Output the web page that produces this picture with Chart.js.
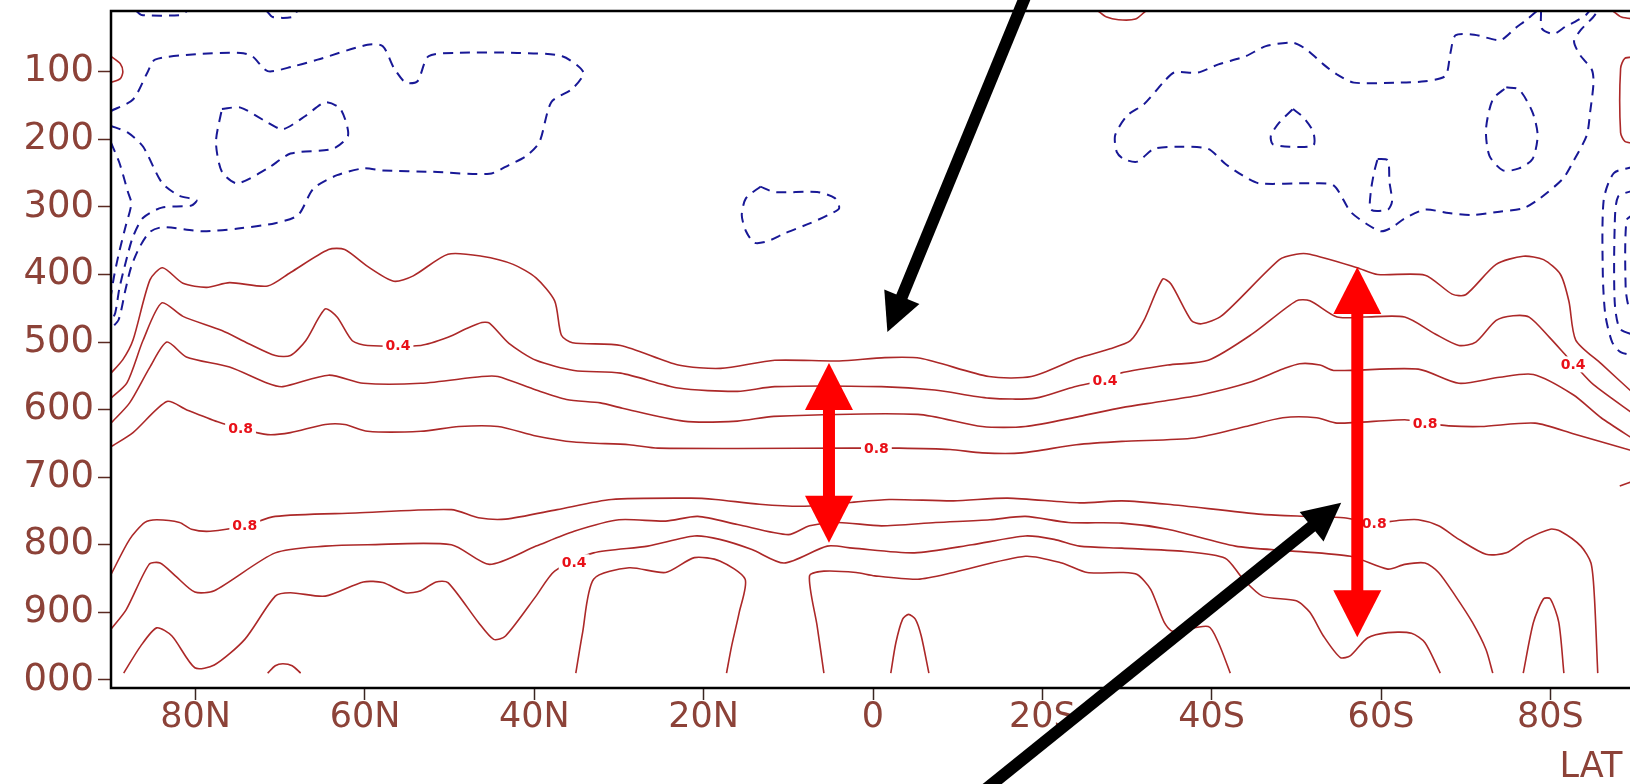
<!DOCTYPE html>
<html><head><meta charset="utf-8">
<script src="https://cdn.jsdelivr.net/npm/chart.js@4.4.1/dist/chart.umd.min.js"></script>
<style>
html,body{margin:0;padding:0;background:#fff;overflow:hidden;width:1630px;height:784px}
#wrap{position:absolute;left:0;top:0;width:1640px;height:784px}
canvas{display:block}
</style></head>
<body><div id="wrap"><canvas id="c" width="1640" height="784"></canvas></div>
<script>
// ---------- axes ----------
const latTicks = [80, 60, 40, 20, 0, -20, -40, -60, -80];
const latTickLabels = ['80N', '60N', '40N', '20N', '0', '20S', '40S', '60S', '80S'];
const pTicks = [100, 200, 300, 400, 500, 600, 700, 800, 900, 1000];
const pTickLabels = ['100', '200', '300', '400', '500', '600', '700', '800', '900', '000'];
const xTitle = 'LAT';

// ---------- positive contours (red, solid) : [lat, hPa] ----------
const cU1 = [[90,546],[88.6,526],[87.4,497],[85.4,408],[83.9,390],[81.5,413],[78.7,419],[76.0,412],[71.5,417],[68.8,397],[64.3,363],[62.4,363],[59.7,388],[56.6,410],[54.3,402],[50.2,370],[46.2,373],[42.5,385],[39.8,405],[37.6,439],[36.8,490],[35.5,501],[29.8,505],[23.0,534],[18.0,539],[11.6,527],[4.0,528],[-1.4,523],[-5.6,524],[-13.7,551],[-18.7,551],[-24.2,524],[-28.0,510],[-30.4,498],[-32.0,468],[-34.2,407],[-35.2,414],[-37.6,468],[-38.8,473],[-41.2,461],[-48.0,378],[-50.0,370],[-51.6,370],[-57.2,390],[-59.6,400],[-65.2,401],[-68.4,429],[-70.0,430],[-73.6,385],[-76.8,373],[-79.2,378],[-81.2,400],[-82.2,440],[-83.0,497],[-86.0,532],[-90,578]];
const cU2 = [[90,583],[88.1,560],[86.2,497],[84.0,442],[81.5,462],[76.9,483],[73.8,502],[70.6,520],[68.8,520],[67.0,498],[64.7,451],[63.3,463],[61.5,498],[59.7,505],[53.4,505],[50.2,493],[48.0,480],[46.2,471],[45.3,472],[43.0,502],[39.8,527],[35.3,542],[29.8,546],[23.0,568],[16.0,573],[11.6,566],[-1.0,566],[-7.3,571],[-13.7,583],[-19.2,583],[-23.8,566],[-27.4,556],[-29.2,546],[-34.8,534],[-39.6,527],[-44.8,488],[-50.0,439],[-51.6,439],[-54.8,463],[-58.0,463],[-62.8,463],[-66.4,488],[-69.2,505],[-71.2,500],[-73.6,468],[-75.6,461],[-77.5,463],[-79.9,493],[-82.0,522],[-83.1,537],[-85.1,563],[-90,608]];
const cU3 = [[90,620],[87.8,590],[85.4,537],[83.4,500],[81.1,522],[76.0,537],[71.5,561],[69.7,566],[64.3,549],[60.2,561],[53.4,561],[46.2,551],[44.3,551],[39.8,571],[36.2,585],[32.2,590],[29.6,598],[22.4,617],[16.0,617],[11.7,610],[-5.3,607],[-12.9,625],[-18.0,625],[-24.4,610],[-29.4,597],[-34.0,588],[-38.8,578],[-44.4,560],[-48.4,540],[-50.4,532],[-52.8,534],[-54.4,542],[-64.4,540],[-69.2,561],[-74.0,552],[-78.0,548],[-82.7,578],[-86.0,612],[-90,645]];
const cU4 = [[90,655],[87.4,634],[83.4,588],[81.1,600],[77.4,618],[74.7,628],[71.5,637],[68.8,634],[64.7,622],[62.4,622],[59.7,632],[53.4,632],[48.9,625],[44.3,625],[39.8,639],[35.3,648],[28.8,652],[25.4,657],[2.4,657],[-3.1,657],[-9.1,659],[-12.9,664],[-17.6,664],[-24.0,652],[-29.4,647],[-38.0,642],[-44.0,625],[-48.4,612],[-52.4,612],[-54.8,620],[-62.8,615],[-65.2,620],[-68.0,624],[-71.8,625],[-78.2,620],[-82.8,636],[-90,662]];
const cL1 = [[90,844],[87.8,792],[86.0,767],[84.6,763],[81.9,767],[80.5,777],[78.3,780],[74.2,772],[70.6,758],[61.1,753],[49.8,748],[46.6,760],[43.4,762],[37.3,748],[30.9,733],[21.5,731],[18.6,733],[13.4,740],[8.3,743],[3.2,738],[-1.9,733],[-9.5,735],[-15.9,731],[-24.4,738],[-29.4,735],[-34.8,740],[-46.0,755],[-51.6,758],[-55.6,760],[-59.2,768],[-62.0,764],[-64.4,763],[-66.8,772],[-69.2,792],[-72.4,814],[-74.8,812],[-77.2,792],[-80.0,777],[-81.2,780],[-83.6,802],[-84.8,827],[-85.2,876],[-85.6,990]];
const cL2 = [[90,925],[88.2,896],[85.5,829],[84.2,827],[82.4,846],[80.1,870],[77.8,868],[70.6,812],[64.7,802],[59.7,800],[49.8,800],[45.3,829],[39.8,802],[35.3,780],[30.0,763],[24.5,765],[20.7,758],[16.0,770],[10.0,785],[7.5,772],[4.1,767],[-1.0,772],[-7.4,767],[-13.8,763],[-18.0,758],[-23.1,767],[-29.4,768],[-34.8,777],[-42.8,802],[-49.2,809],[-56.4,817],[-60.8,836],[-62.8,829],[-65.2,827],[-66.8,841],[-68.8,876],[-70.8,915],[-72.4,955],[-73.2,990]];
const cL3 = [[88.5,990],[86.5,950],[84.6,923],[82.8,935],[80.1,982],[77.8,978],[74.2,940],[70.6,876],[68.8,871],[64.7,876],[60.2,855],[57.9,856],[55.2,871],[53.4,868],[51.6,855],[50.2,856],[46.6,915],[44.8,940],[43.4,935],[39.8,876],[37.6,839],[33.0,812],[26.6,802],[21.1,787],[18.1,792],[14.3,807],[10.5,827],[5.4,802],[2.4,805],[-4.9,812],[-11.7,800],[-18.0,787],[-21.4,792],[-24.4,802],[-29.4,805],[-36.8,810],[-41.6,820],[-43.6,849],[-46.0,876],[-50.0,883],[-51.6,900],[-53.2,935],[-55.2,967],[-56.4,964],[-58.4,938],[-60.8,930],[-63.6,931],[-65.2,945],[-67.0,990]];
const cL4a = [[71.5,990],[70.6,979],[69.7,976],[68.6,979],[67.6,990]];
const cL4b = [[35.1,990],[34.3,930],[33.0,851],[28.8,834],[24.5,841],[21.1,819],[18.1,824],[15.1,851],[15.8,900],[16.7,950],[17.3,990]];
const cL4c = [[5.8,990],[6.6,920],[7.5,846],[5.8,839],[2.0,841],[-0.2,846],[-5.3,851],[-9.5,841],[-18.0,817],[-22.3,827],[-25.3,841],[-29.4,841],[-31.2,844],[-32.8,866],[-34.4,915],[-35.4,928],[-39.6,921],[-40.8,945],[-42.2,990]];
const cBumpEq = [[-2.1,990],[-2.7,945],[-3.5,910],[-4.2,903],[-5.0,910],[-5.7,935],[-6.6,990]];
const cBumpS = [[-76.8,990],[-78.0,915],[-79.2,880],[-80.0,880],[-81.0,915],[-81.6,990]];
const cRedTL = [[90,77],[88.9,88],[88.6,100],[88.9,110],[90,116]];
const cRedTop = [[-26.6,10],[-27.6,19],[-29.0,23],[-31.0,22],[-32.2,10]];
const cRedTR = [[-87.4,10],[-88.4,19],[-90,22]];
const cRedR = [[-90,78],[-88.8,80],[-88.3,95],[-88.3,190],[-88.8,203],[-90,206]];
const cRedRbit = [[-88.2,713],[-90,705]];

// ---------- negative contours (blue, dashed) ----------
const bB1 = [[90,158],[87.4,141],[85.7,101],[84.8,82],[80.0,74],[74.7,72],[73.3,77],[71.5,99],[68.5,92],[65.6,82],[59.7,60],[57.9,62],[56.6,94],[55.2,116],[53.8,114],[52.5,77],[48.9,72],[42.0,72],[36.7,77],[34.2,101],[35.5,125],[38.0,145],[39.4,204],[41.0,225],[43.0,238],[45.3,251],[52.0,248],[57.9,246],[60.2,243],[63.3,253],[66.1,273],[67.9,312],[70.6,324],[75.0,332],[79.2,336],[83.9,330],[85.4,337],[86.6,359],[87.6,388],[88.3,423],[89.1,467],[90,480]];
const bB2 = [[76.9,155],[74.7,153],[71.5,175],[69.7,185],[67.0,165],[64.7,145],[62.9,155],[62.0,194],[63.8,214],[68.8,221],[71.5,243],[75.1,265],[76.9,248],[77.6,204],[76.9,155]];
const bB3 = [[90,180],[88.0,190],[86.2,211],[84.0,264],[82.0,283],[79.9,290],[80.5,298],[84.0,301],[86.2,316],[87.4,344],[88.1,374],[89.0,420],[89.5,457],[90,470]];
const bB4 = [[90,205],[89.0,235],[88.0,278],[87.6,295],[88.3,330],[89.0,365],[89.6,400],[90,430]];
const bTop1 = [[87.0,10],[86.4,16],[81.8,16],[81.0,10]];
const bTop2 = [[71.6,10],[70.9,19],[68.6,19],[68.0,10]];
const bEq = [[13.3,270],[11.6,278],[6.6,278],[4.5,287],[4.0,302],[5.3,312],[7.4,324],[10.4,339],[12.5,351],[14.0,353],[15.0,336],[15.5,312],[15.0,287],[13.3,270]];
const bS = [[-78.4,10],[-77.3,22],[-75.9,35],[-74.1,53],[-71.0,45],[-68.8,46],[-68.2,72],[-67.6,106],[-65.2,114],[-61.6,116],[-56.8,116],[-54.8,104],[-53.2,89],[-51.2,67],[-49.6,57],[-46.4,62],[-44.0,77],[-40.8,89],[-38.4,101],[-35.6,101],[-34.4,114],[-32.0,148],[-30.0,165],[-28.6,194],[-28.8,219],[-29.6,229],[-31.2,233],[-33.2,214],[-36.4,211],[-39.6,214],[-41.6,236],[-43.6,253],[-45.6,265],[-51.6,265],[-54.4,268],[-56.4,307],[-58.4,326],[-60.0,336],[-61.2,331],[-62.8,317],[-65.2,304],[-68.0,309],[-70.8,312],[-74.0,307],[-76.8,302],[-78.8,287],[-81.5,258],[-82.7,233],[-84.3,194],[-84.7,160],[-85.1,116],[-84.9,97],[-83.5,75],[-82.8,55],[-83.6,38],[-85.0,20],[-85.6,10]];
const bS2 = [[-78.9,10],[-79.0,36],[-80.4,44],[-81.8,33],[-82.9,26],[-84.2,16],[-84.6,10]];
const bTri = [[-49.6,155],[-50.8,167],[-52.0,189],[-52.0,209],[-49.2,211],[-47.2,207],[-47.0,194],[-48.0,175],[-49.6,155]];
const bNarrow = [[-59.6,229],[-60.8,231],[-61.0,263],[-61.3,292],[-60.8,304],[-58.8,304],[-58.8,277],[-59.2,248],[-59.6,229]];
const bOval = [[-74.8,123],[-76.3,126],[-77.9,160],[-78.5,194],[-77.9,229],[-76.3,243],[-74.4,246],[-72.8,224],[-72.4,185],[-73.2,141],[-74.8,123]];
const bR1 = [[-90,240],[-87.5,250],[-86.3,290],[-86.2,400],[-86.5,460],[-87.3,500],[-88.3,515],[-90,520]];
const bR2 = [[-90,275],[-88.0,285],[-87.6,330],[-87.6,440],[-88.2,480],[-90,490]];
const bR3 = [[-90,310],[-89.0,320],[-88.9,420],[-89.3,450],[-90,460]];

// ---------- contour labels ----------
const labelLat = [56.1, 74.7, 74.2, 35.3, -0.4, -27.4, -65.2, -59.2, -82.7];
const labelP   = [505, 628, 772, 826, 657, 556, 620, 768, 533];
const labelTxt = ['0.4', '0.8', '0.8', '0.4', '0.8', '0.4', '0.8', '0.8', '0.4'];

// ---------- annotation arrows (lat, hPa) ----------
const blackArrowFrom = [[-18.3, -21], [-12.5, 1170]];
const blackArrowTo   = [[-1.7, 485], [-55.3, 738]];
const redArrowLat = [5.2, -57.2];
const redArrowTop = [531, 389];
const redArrowBottom = [797, 937];

// ---------- styling ----------
const RED_LINE = 'rgb(172,40,40)';
const BLUE_LINE = 'rgb(24,24,150)';
const TICK_COLOR = 'rgb(140,66,56)';
const LABEL_RED = 'rgb(232,16,24)';

const toPts = a => a.map(([lat, p]) => ({x: lat, y: p}));
const redSets = [cU1, cU2, cU3, cU4, cL1, cL2, cL3, cL4a, cL4b, cL4c, cBumpEq, cBumpS, cRedTL, cRedTop, cRedTR, cRedR, cRedRbit];
const blueSets = [bB1, bB2, bB3, bB4, bTop1, bTop2, bEq, bS, bS2, bTri, bNarrow, bOval, bR1, bR2, bR3];
const datasets = [];
redSets.forEach(a => datasets.push({data: toPts(a), borderColor: RED_LINE, borderWidth: 1.6, showLine: true, pointRadius: 0, tension: 0.25, fill: false}));
blueSets.forEach(a => datasets.push({data: toPts(a), borderColor: BLUE_LINE, borderWidth: 2, borderDash: [10, 7], showLine: true, pointRadius: 0, tension: 0.25, fill: false}));

function arrowHead(ctx, tx, ty, ux, uy, len, half) {
  const bx = tx - ux * len, by = ty - uy * len;
  ctx.beginPath();
  ctx.moveTo(tx, ty);
  ctx.lineTo(bx - uy * half, by + ux * half);
  ctx.lineTo(bx + uy * half, by - ux * half);
  ctx.closePath();
  ctx.fill();
}

const overlay = {
  id: 'overlay',
  afterDatasetsDraw(chart) {
    const {ctx, chartArea: a, scales: {x, y}} = chart;
    ctx.save();
    ctx.strokeStyle = '#000';
    ctx.lineWidth = 2.5;
    ctx.strokeRect(a.left, a.top, a.right - a.left, a.bottom - a.top);
    ctx.font = 'bold 14px "DejaVu Sans"';
    ctx.textAlign = 'center';
    ctx.textBaseline = 'middle';
    labelTxt.forEach((t, i) => {
      const px = x.getPixelForValue(labelLat[i]), py = y.getPixelForValue(labelP[i]);
      const w = ctx.measureText(t).width + 6;
      ctx.fillStyle = '#fff';
      ctx.fillRect(px - w / 2, py - 8, w, 16);
      ctx.fillStyle = LABEL_RED;
      ctx.fillText(t, px, py + 1);
    });
    ctx.restore();
  },
  afterDraw(chart) {
    const {ctx, chartArea: a, scales: {x, y}} = chart;
    ctx.save();
    ctx.fillStyle = '#000'; ctx.strokeStyle = '#000';
    blackArrowFrom.forEach((f, i) => {
      const t = blackArrowTo[i];
      const x1 = x.getPixelForValue(f[0]), y1 = y.getPixelForValue(f[1]);
      const x2 = x.getPixelForValue(t[0]), y2 = y.getPixelForValue(t[1]);
      const L = Math.hypot(x2 - x1, y2 - y1), ux = (x2 - x1) / L, uy = (y2 - y1) / L;
      ctx.lineWidth = 12; ctx.lineCap = 'butt';
      ctx.beginPath(); ctx.moveTo(x1, y1); ctx.lineTo(x2 - ux * 34, y2 - uy * 34); ctx.stroke();
      arrowHead(ctx, x2, y2, ux, uy, 38, 19);
    });
    ctx.fillStyle = '#ff0000'; ctx.strokeStyle = '#ff0000';
    redArrowLat.forEach((lat, i) => {
      const px = x.getPixelForValue(lat);
      const yt = y.getPixelForValue(redArrowTop[i]), yb = y.getPixelForValue(redArrowBottom[i]);
      ctx.lineWidth = 12;
      ctx.beginPath(); ctx.moveTo(px, yt + 44); ctx.lineTo(px, yb - 44); ctx.stroke();
      arrowHead(ctx, px, yt, 0, -1, 47, 24);
      arrowHead(ctx, px, yb, 0, 1, 47, 24);
    });
    ctx.fillStyle = TICK_COLOR;
    ctx.font = '35px "DejaVu Sans"';
    ctx.textAlign = 'center'; ctx.textBaseline = 'middle';
    ctx.fillText(xTitle, a.right - 44, 768);
    ctx.restore();
  }
};

new Chart(document.getElementById('c'), {
  type: 'scatter',
  data: {datasets},
  options: {
    responsive: false, animation: false, devicePixelRatio: 1, events: [],
    layout: {padding: {top: 11, right: 5, left: 0, bottom: 0}},
    plugins: {legend: {display: false}, tooltip: {enabled: false}},
    scales: {
      x: {
        type: 'linear', min: -90, max: 90, reverse: true,
        afterBuildTicks: s => { s.ticks = latTicks.map(v => ({value: v})); },
        ticks: {callback: v => { const i = latTicks.indexOf(v); return i >= 0 ? latTickLabels[i] : ''; },
                font: {family: 'DejaVu Sans', size: 35, lineHeight: 1}, color: TICK_COLOR, padding: 0, maxRotation: 0, autoSkip: false},
        grid: {display: true, drawOnChartArea: false, drawTicks: true, tickLength: 12, tickColor: '#3a2622', tickWidth: 1.5},
        border: {display: false},
        afterFit: s => { s.height = 96; s.paddingLeft = 0; s.paddingRight = 0; }
      },
      y: {
        type: 'linear', min: 10, max: 1012, reverse: true,
        afterBuildTicks: s => { s.ticks = pTicks.map(v => ({value: v})); },
        ticks: {callback: v => { const i = pTicks.indexOf(v); return i >= 0 ? pTickLabels[i] : ''; },
                font: {family: 'DejaVu Sans', size: 37}, color: TICK_COLOR, padding: 4, autoSkip: false},
        grid: {display: true, drawOnChartArea: false, drawTicks: true, tickLength: 13, tickColor: '#5a2a22', tickWidth: 1.5},
        border: {display: false},
        afterFit: s => { s.width = 111; s.paddingTop = 0; s.paddingBottom = 0; }
      }
    }
  },
  plugins: [overlay]
});
</script>
</body></html>
